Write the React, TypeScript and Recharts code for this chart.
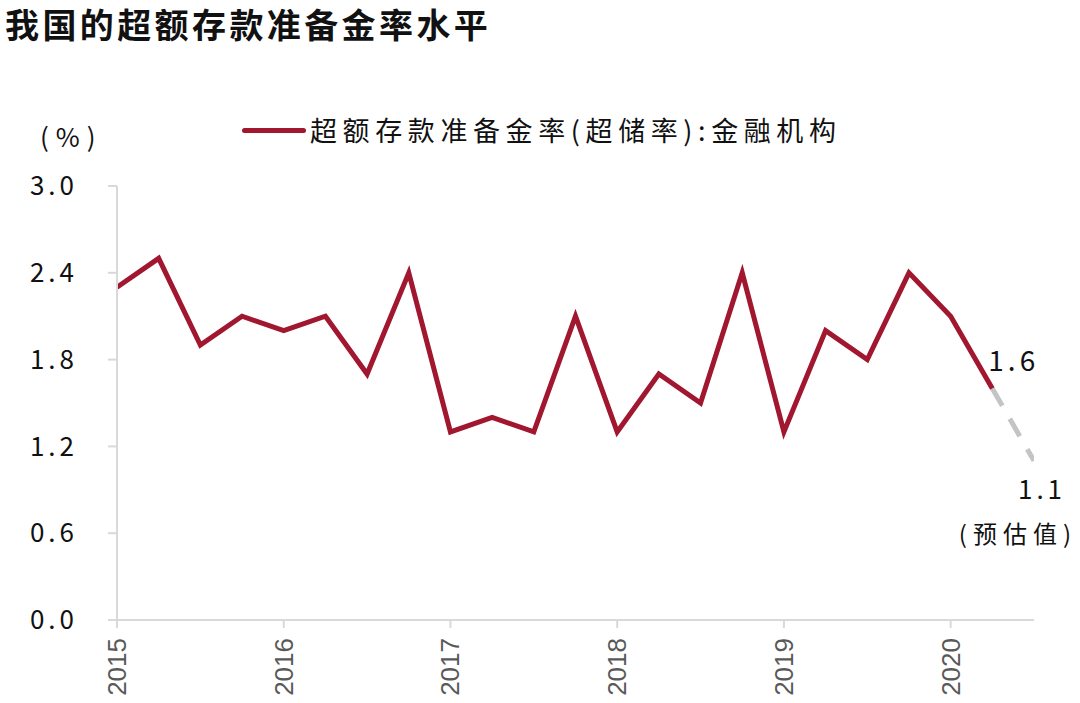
import React from "react";
import { LineChart, Line, XAxis, YAxis } from "recharts";

const quarters = [
  2015, 2015.25, 2015.5, 2015.75,
  2016, 2016.25, 2016.5, 2016.75,
  2017, 2017.25, 2017.5, 2017.75,
  2018, 2018.25, 2018.5, 2018.75,
  2019, 2019.25, 2019.5, 2019.75,
  2020, 2020.25, 2020.5,
];
const actual: (number | null)[] = [
  2.3, 2.5, 1.9, 2.1,
  2.0, 2.1, 1.7, 2.4,
  1.3, 1.4, 1.3, 2.1,
  1.3, 1.7, 1.5, 2.4,
  1.3, 2.0, 1.8, 2.4,
  2.1, 1.6, null,
];
const forecast: (number | null)[] = [
  null, null, null, null,
  null, null, null, null,
  null, null, null, null,
  null, null, null, null,
  null, null, null, null,
  null, 1.6, 1.1,
];
const yearTicks = [2015, 2016, 2017, 2018, 2019, 2020];
const yTicks = [0, 0.6, 1.2, 1.8, 2.4, 3.0];

const title = "我国的超额存款准备金率水平";
const seriesName = "超额存款准备金率(超储率):金融机构";
const unitLabel = "(%)";
const forecastNote = "(预估值)";

const RED = "#A0172F";
const GREY = "#C4C4C4";
const AXIS = "#D9D9D9";
const CJK = "'Noto Sans CJK SC', 'Noto Sans', sans-serif";

const data = quarters.map((q, i) => ({ q, actual: actual[i], forecast: forecast[i] }));

const XTick = (props: any) => {
  const { x, y, payload } = props;
  return (
    <g transform={`translate(${x},${y})`}>
      <text
        transform="rotate(-90)"
        x={-10}
        y={0}
        textAnchor="end"
        dominantBaseline="central"
        fill="#595959"
        fontSize={26}
        fontFamily="'Liberation Sans', Arial, sans-serif"
      >
        {payload.value}
      </text>
    </g>
  );
};

const lastActualIndex = 21;
const forecastEndIndex = 22;

const actualLabel = (props: any) => {
  const { x, y, value, index } = props;
  if (index !== lastActualIndex || value == null) return null;
  return (
    <text x={x - 4} y={y - 30} dominantBaseline="central" fontSize={28} fontFamily={CJK} fill="#111" letterSpacing={4}>
      {Number(value).toFixed(1)}
    </text>
  );
};

const forecastLabel = (props: any) => {
  const { x, y, value, index } = props;
  if (index !== forecastEndIndex || value == null) return null;
  return (
    <g>
      <text x={x + 8} y={y + 27} textAnchor="middle" dominantBaseline="central" fontSize={26} fontFamily={CJK} fill="#111" letterSpacing={4}>
        {Number(value).toFixed(1)}
      </text>
      <text x={x + 43} y={y + 72} textAnchor="end" dominantBaseline="central" fontSize={24} fontFamily={CJK} fill="#111" letterSpacing={6}>
        {forecastNote}
      </text>
    </g>
  );
};

export default function App() {
  return (
    <div style={{ position: "absolute", left: 0, top: 0, width: 1080, height: 703, background: "#fff" }}>
      <div
        style={{
          position: "absolute", left: 5, top: 4, fontFamily: CJK, fontWeight: 700,
          fontSize: 34, letterSpacing: 3.4, color: "#111", whiteSpace: "nowrap", lineHeight: "40px",
        }}
      >
        {title}
      </div>
      <div
        style={{
          position: "absolute", left: 40, top: 120, fontFamily: CJK, fontSize: 26,
          color: "#111", whiteSpace: "nowrap", lineHeight: "32px", letterSpacing: 7,
        }}
      >
        {unitLabel}
      </div>
      <div style={{ position: "absolute", left: 242, top: 114, display: "flex", alignItems: "center", whiteSpace: "nowrap" }}>
        <div style={{ width: 64, height: 5, background: RED, borderRadius: 3 }} />
        <div style={{ marginLeft: 4, fontFamily: CJK, fontSize: 27, letterSpacing: 5.6, color: "#111", lineHeight: "32px" }}>
          {seriesName}
        </div>
      </div>
      <LineChart
        width={1080}
        height={703}
        data={data}
        margin={{ top: 186, right: 46, bottom: 0, left: 0 }}
        style={{ position: "absolute", left: 0, top: 0 }}
      >
        <XAxis
          dataKey="q"
          type="number"
          domain={[2015, 2020.5]}
          ticks={yearTicks}
          interval={0}
          height={83}
          stroke={AXIS}
          strokeWidth={2}
          tickSize={8}
          tickMargin={0}
          tickLine={{ stroke: AXIS, strokeWidth: 2 }}
          tick={<XTick />}
          allowDataOverflow
        />
        <YAxis
          type="number"
          domain={[0, 3]}
          ticks={yTicks}
          interval={0}
          width={117}
          stroke={AXIS}
          strokeWidth={2}
          tickSize={9}
          tickMargin={30}
          tickLine={{ stroke: AXIS, strokeWidth: 2 }}
          tickFormatter={(v: number) => v.toFixed(1)}
          tick={{ fill: "#111", fontSize: 26, fontFamily: CJK, letterSpacing: 4 }}
        />
        <Line
          dataKey="forecast"
          stroke={GREY}
          strokeWidth={5}
          strokeDasharray="20 15"
          dot={false}
          activeDot={false}
          connectNulls={false}
          isAnimationActive={false}
          label={forecastLabel}
        />
        <Line
          dataKey="actual"
          stroke={RED}
          strokeWidth={5}
          dot={false}
          activeDot={false}
          connectNulls={false}
          isAnimationActive={false}
          label={actualLabel}
        />
      </LineChart>
    </div>
  );
}
